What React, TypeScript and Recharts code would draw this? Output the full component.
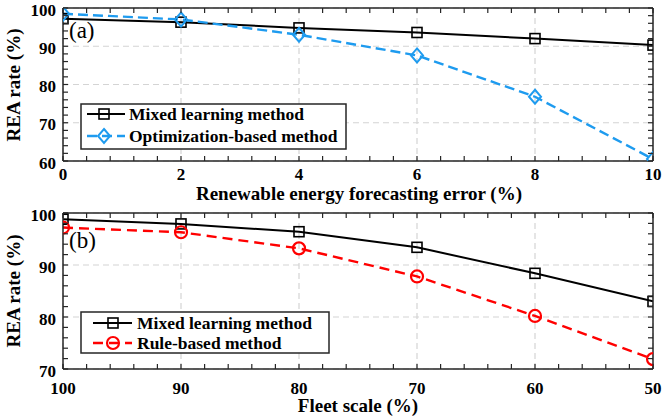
import React from 'react';
import { LineChart, Line, XAxis, YAxis, CartesianGrid } from 'recharts';

// ---- data ----
const errorLevels = [0, 2, 4, 6, 8, 10];
const mixedByError = [97.2, 96.3, 94.8, 93.6, 92.0, 90.3];
const optimizationByError = [98.5, 97.0, 93.0, 87.6, 76.8, 60.5];

const fleetScales = [100, 90, 80, 70, 60, 50];
const mixedByFleet = [98.8, 97.9, 96.4, 93.4, 88.4, 83.0];
const ruleByFleet = [97.2, 96.3, 93.2, 87.8, 80.2, 71.9];

// ---- ticks ----
const errorTicks = [0, 2, 4, 6, 8, 10];
const errorMinorTicks = [0, 0.4, 0.8, 1.2, 1.6, 2, 2.4, 2.8, 3.2, 3.6, 4, 4.4, 4.8, 5.2, 5.6, 6, 6.4, 6.8, 7.2, 7.6, 8, 8.4, 8.8, 9.2, 9.6, 10];
const rateTicksA = [60, 70, 80, 90, 100];
const rateMinorTicksA = [60, 62, 64, 66, 68, 70, 72, 74, 76, 78, 80, 82, 84, 86, 88, 90, 92, 94, 96, 98, 100];
const fleetTicks = [50, 60, 70, 80, 90, 100];
const fleetMinorTicks = [50, 52, 54, 56, 58, 60, 62, 64, 66, 68, 70, 72, 74, 76, 78, 80, 82, 84, 86, 88, 90, 92, 94, 96, 98, 100];
const rateTicksB = [70, 80, 90, 100];
const rateMinorTicksB = [70, 72, 74, 76, 78, 80, 82, 84, 86, 88, 90, 92, 94, 96, 98, 100];

const seriesNames = ['Mixed learning method', 'Optimization-based method', 'Rule-based method'];
const xTitles = ['Renewable energy forecasting error (%)', 'Fleet scale (%)'];
const yTitle = 'REA rate (%)';
const panelLabels = ['(a)', '(b)'];

const dataA = errorLevels.map((x, i) => ({ x, mixed: mixedByError[i], opt: optimizationByError[i] }));
const dataB = fleetScales.map((x, i) => ({ x, mixed: mixedByFleet[i], rule: ruleByFleet[i] }));

// ---- styles ----
const FONT = '"Liberation Serif", "Times New Roman", serif';
const AXIS = '#262626';
const BLUE = '#1e9bef';
const RED = '#ff0000';
const GRID = '#d4d4d4';
const TICK = 5;

const squareDot = (p: any) => (
  <rect key={`sq${p.index}`} x={p.cx - 5} y={p.cy - 5} width={10} height={10} fill="none" stroke="#000" strokeWidth={1.6} />
);
const diamondDot = (p: any) => (
  <path key={`di${p.index}`} d={`M${p.cx},${p.cy - 7} L${p.cx + 6},${p.cy} L${p.cx},${p.cy + 7} L${p.cx - 6},${p.cy} Z`} fill="none" stroke={BLUE} strokeWidth={2} />
);
const circleDot = (p: any) => (
  <circle key={`ci${p.index}`} cx={p.cx} cy={p.cy} r={6} fill="none" stroke={RED} strokeWidth={2.2} />
);

const labelStyle = { fontFamily: FONT, fontWeight: 700, fontSize: 17, fill: '#000' } as any;

const bottomTick = (majors: number[], dy: number) => (p: any) => {
  const v = p.payload.value;
  return (
    <g key={`bt${v}`}>
      <line x1={p.x} y1={p.y} x2={p.x} y2={p.y - TICK} stroke={AXIS} strokeWidth={1.2} />
      {majors.includes(v) && (
        <text x={p.x} y={p.y + dy} textAnchor="middle" style={labelStyle}>{v}</text>
      )}
    </g>
  );
};
const topTick = (p: any) => (
  <line key={`tt${p.payload.value}`} x1={p.x} y1={p.y} x2={p.x} y2={p.y + TICK} stroke={AXIS} strokeWidth={1.2} />
);
const leftTick = (majors: number[]) => (p: any) => {
  const v = p.payload.value;
  return (
    <g key={`lt${v}`}>
      <line x1={p.x} y1={p.y} x2={p.x + TICK} y2={p.y} stroke={AXIS} strokeWidth={1.2} />
      {majors.includes(v) && (
        <text x={p.x - 7} y={p.y + 7.5} textAnchor="end" style={labelStyle}>{v}</text>
      )}
    </g>
  );
};
const rightTick = (p: any) => (
  <line key={`rt${p.payload.value}`} x1={p.x} y1={p.y} x2={p.x - TICK} y2={p.y} stroke={AXIS} strokeWidth={1.2} />
);

const axisLine = { stroke: AXIS, strokeWidth: 1.5 };

export default function App() {
  return (
    <div style={{ position: 'absolute', left: 0, top: 0, width: 663, height: 419, background: '#fff', overflow: 'hidden' }}>
      {/* Panel (a) */}
      <div style={{ position: 'absolute', left: 0, top: 0 }}>
        <LineChart width={663} height={210} data={dataA} margin={{ top: 7, right: 9, bottom: 48, left: 62 }}>
          <CartesianGrid stroke={GRID} strokeDasharray="6 4" strokeWidth={1.2} verticalValues={errorTicks} horizontalValues={rateTicksA} />
          <XAxis dataKey="x" type="number" domain={[0, 10]} ticks={errorMinorTicks} interval={0} height={1} tickSize={0} tickMargin={0} tickLine={false} axisLine={axisLine} tick={bottomTick(errorTicks, 19)} allowDataOverflow />
          <XAxis xAxisId="top" orientation="top" dataKey="x" type="number" domain={[0, 10]} ticks={errorMinorTicks} interval={0} height={1} tickSize={0} tickMargin={0} tickLine={false} axisLine={axisLine} tick={topTick} allowDataOverflow />
          <YAxis type="number" domain={[60, 100]} ticks={rateMinorTicksA} interval={0} width={1} tickSize={0} tickMargin={0} tickLine={false} axisLine={axisLine} tick={leftTick(rateTicksA)} allowDataOverflow />
          <YAxis yAxisId="right" orientation="right" type="number" domain={[60, 100]} ticks={rateMinorTicksA} interval={0} width={1} tickSize={0} tickMargin={0} tickLine={false} axisLine={axisLine} tick={rightTick} allowDataOverflow />
          <Line dataKey="mixed" type="linear" stroke="#000" strokeWidth={2} dot={squareDot} isAnimationActive={false} />
          <Line dataKey="opt" type="linear" stroke={BLUE} strokeWidth={2.4} strokeDasharray="10 5" dot={diamondDot} isAnimationActive={false} />
        </LineChart>
      </div>
      {/* Panel (b) */}
      <div style={{ position: 'absolute', left: 0, top: 195 }}>
        <LineChart width={663} height={224} data={dataB} margin={{ top: 17, right: 9, bottom: 49, left: 62 }}>
          <CartesianGrid stroke={GRID} strokeDasharray="6 4" strokeWidth={1.2} verticalValues={fleetTicks} horizontalValues={rateTicksB} />
          <XAxis dataKey="x" type="number" domain={[50, 100]} reversed ticks={fleetMinorTicks} interval={0} height={1} tickSize={0} tickMargin={0} tickLine={false} axisLine={axisLine} tick={bottomTick(fleetTicks, 25)} allowDataOverflow />
          <XAxis xAxisId="top" orientation="top" dataKey="x" type="number" domain={[50, 100]} reversed ticks={fleetMinorTicks} interval={0} height={1} tickSize={0} tickMargin={0} tickLine={false} axisLine={axisLine} tick={topTick} allowDataOverflow />
          <YAxis type="number" domain={[70, 100]} ticks={rateMinorTicksB} interval={0} width={1} tickSize={0} tickMargin={0} tickLine={false} axisLine={axisLine} tick={leftTick(rateTicksB)} allowDataOverflow />
          <YAxis yAxisId="right" orientation="right" type="number" domain={[70, 100]} ticks={rateMinorTicksB} interval={0} width={1} tickSize={0} tickMargin={0} tickLine={false} axisLine={axisLine} tick={rightTick} allowDataOverflow />
          <Line dataKey="mixed" type="linear" stroke="#000" strokeWidth={2} dot={squareDot} isAnimationActive={false} />
          <Line dataKey="rule" type="linear" stroke={RED} strokeWidth={2.4} strokeDasharray="10 6" dot={circleDot} isAnimationActive={false} />
        </LineChart>
      </div>
      {/* Titles, panel labels, legends */}
      <svg width={663} height={419} style={{ position: 'absolute', left: 0, top: 0, pointerEvents: 'none' }}>
        <g style={{ fontFamily: FONT, fontWeight: 700, fontSize: 19 }} fill="#000">
          <text x={20} y={85} textAnchor="middle" transform="rotate(-90 20 85)">{yTitle}</text>
          <text x={20} y={291} textAnchor="middle" transform="rotate(-90 20 291)">{yTitle}</text>
          <text x={359} y={200} textAnchor="middle">{xTitles[0]}</text>
          <text x={358} y={412} textAnchor="middle">{xTitles[1]}</text>
        </g>
        <g style={{ fontFamily: FONT, fontSize: 23 }} fill="#000">
          <text x={69} y={38}>{panelLabels[0]}</text>
          <text x={69} y={248}>{panelLabels[1]}</text>
        </g>
        {/* legend (a) */}
        <rect x={81} y={104} width={265} height={45} fill="#fff" stroke={AXIS} strokeWidth={1.5} />
        <line x1={87} y1={114} x2={125} y2={114} stroke="#000" strokeWidth={2} />
        {squareDot({ cx: 104, cy: 114, index: 'la' })}
        <line x1={87} y1={136} x2={125} y2={136} stroke={BLUE} strokeWidth={2.4} strokeDasharray="10 5" />
        {diamondDot({ cx: 104, cy: 136, index: 'la' })}
        <g style={{ fontFamily: FONT, fontWeight: 700, fontSize: 17.5 }} fill="#000">
          <text x={129} y={120}>{seriesNames[0]}</text>
          <text x={129} y={142}>{seriesNames[1]}</text>
        </g>
        {/* legend (b) */}
        <rect x={81} y={312} width={248} height={41} fill="#fff" stroke={AXIS} strokeWidth={1.5} />
        <line x1={93} y1={323} x2={132} y2={323} stroke="#000" strokeWidth={2} />
        {squareDot({ cx: 113, cy: 323, index: 'lb' })}
        <line x1={93} y1={343} x2={132} y2={343} stroke={RED} strokeWidth={2.4} strokeDasharray="10 6" />
        {circleDot({ cx: 113, cy: 343, index: 'lb' })}
        <g style={{ fontFamily: FONT, fontWeight: 700, fontSize: 17.5 }} fill="#000">
          <text x={137} y={329}>{seriesNames[0]}</text>
          <text x={137} y={349}>{seriesNames[2]}</text>
        </g>
      </svg>
    </div>
  );
}
